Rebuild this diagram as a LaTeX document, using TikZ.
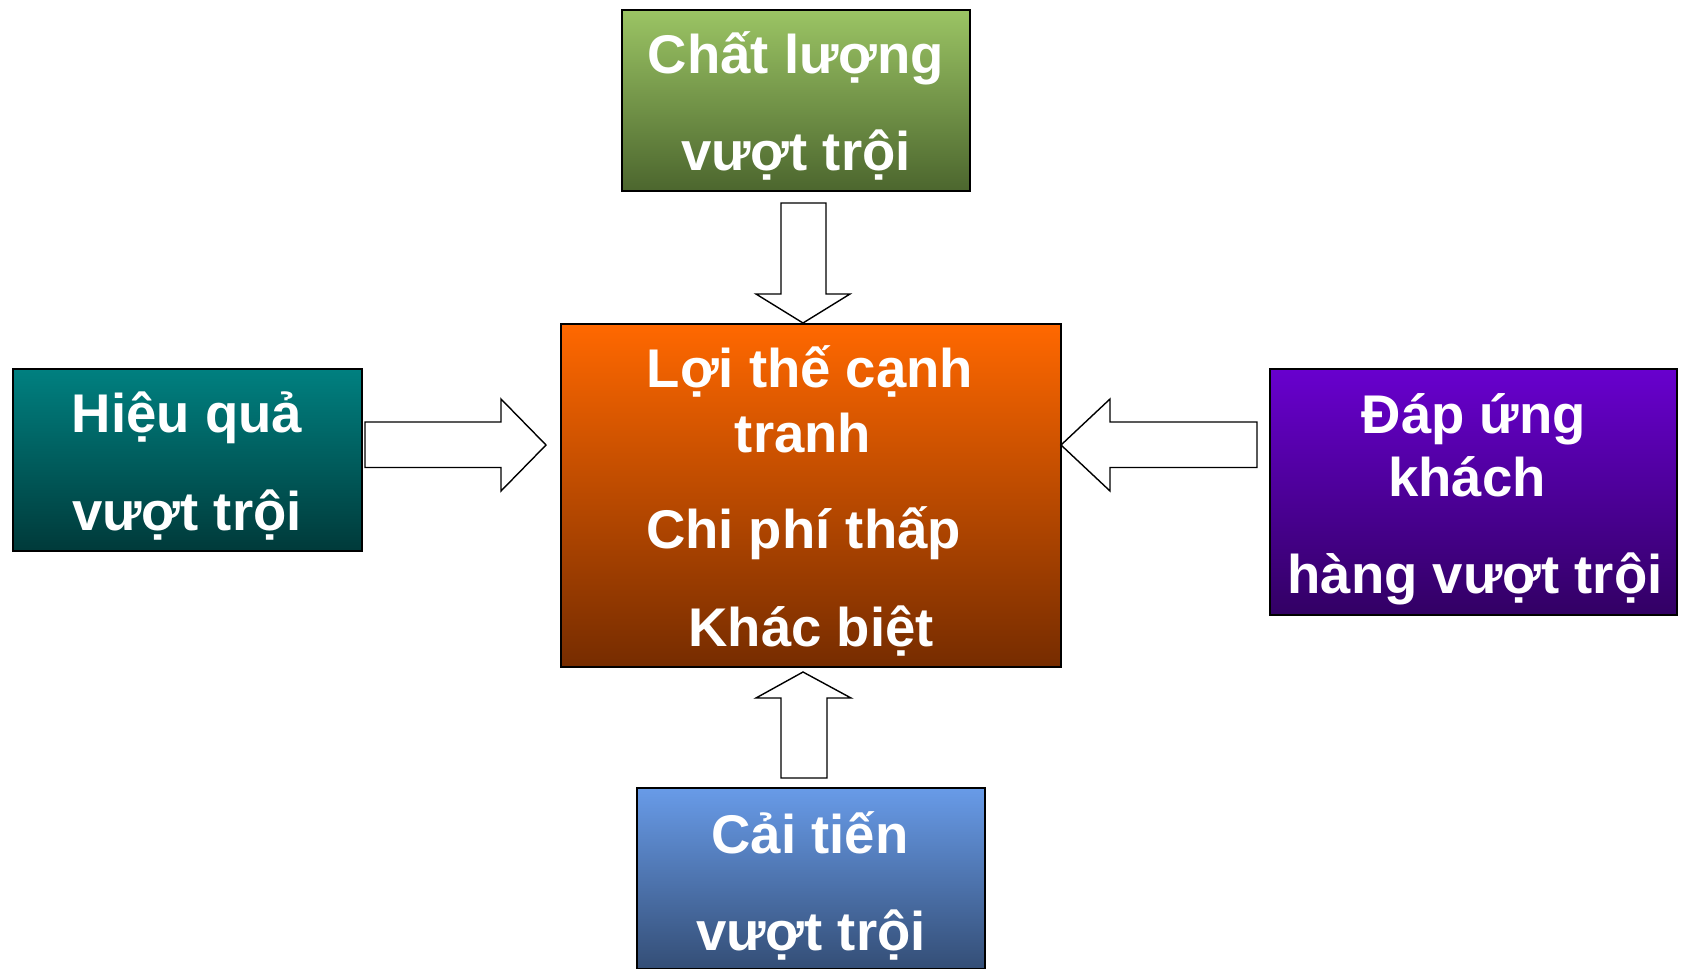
\documentclass[tikz,border=0pt]{standalone}
\usepackage{fontspec}
\setmainfont{Liberation Sans}
\definecolor{gTop}{RGB}{155,196,100}
\definecolor{gBot}{RGB}{76,102,46}
\definecolor{tTop}{RGB}{0,128,128}
\definecolor{tBot}{RGB}{0,58,58}
\definecolor{oTop}{RGB}{255,104,0}
\definecolor{oBot}{RGB}{118,44,0}
\definecolor{pTop}{RGB}{104,0,206}
\definecolor{pBot}{RGB}{50,0,100}
\definecolor{bTop}{RGB}{104,155,232}
\definecolor{bBot}{RGB}{52,78,118}
\tikzset{
  box/.style={draw=black, line width=1.4pt, rectangle, inner sep=0pt, outer sep=0pt},
  lbl/.style={text=white, font=\fontsize{54.5}{64}\selectfont\bfseries, inner sep=0pt, anchor=base},
  blockarrow/.style={draw=black, fill=white, line width=1.4pt, line join=miter}
}
\begin{document}
\begin{tikzpicture}[x=1pt,y=-1pt]
\useasboundingbox (0,0) rectangle (1682,969);
\clip (0,0) rectangle (1682,969);
% boxes
\node[box, top color=gTop, bottom color=gBot, minimum width=348pt, minimum height=181pt] (qual) at (796,100.5) {};
\node[box, top color=tTop, bottom color=tBot, minimum width=349pt, minimum height=182pt] (eff) at (187.5,460) {};
\node[box, top color=oTop, bottom color=oBot, minimum width=500pt, minimum height=343pt] (adv) at (811,495.5) {};
\node[box, top color=pTop, bottom color=pBot, minimum width=407pt, minimum height=246pt] (resp) at (1473.5,492) {};
\node[box, top color=bTop, bottom color=bBot, minimum width=348pt, minimum height=181pt] (inno) at (811,878.5) {};
% texts
\node[lbl] (qual1) at (796,73) {Chất lượng};
\node[lbl] (qual2) at (796,170) {vượt trội};
\node[lbl] (eff1) at (187,432) {Hiệu quả};
\node[lbl] (eff2) at (187,530) {vượt trội};
\node[lbl] (adv1) at (810,387) {Lợi thế cạnh};
\node[lbl] (adv2) at (803,452) {tranh};
\node[lbl] (adv3) at (803.5,548) {Chi phí thấp};
\node[lbl] (adv4) at (811,646) {Khác biệt};
\node[lbl] (resp1) at (1474,433) {Đáp ứng};
\node[lbl] (resp2) at (1467,496) {khách};
\node[lbl] (resp3) at (1475,593) {hàng vượt trội};
\node[lbl] (inno1) at (810,853) {Cải tiến};
\node[lbl] (inno2) at (811,950) {vượt trội};
% block arrows
\coordinate (tipTop) at (803,323);
\coordinate (tipBot) at (803,672);
\coordinate (tipLeft) at (546,445);
\coordinate (tipRight) at (1061,445);
\draw[blockarrow] (781,203) -- (826,203) -- (826,294) -- (850,294) -- (tipTop) -- (756,294) -- (781,294) -- cycle;
\draw[blockarrow] (781,778) -- (827,778) -- (827,698) -- (851,698) -- (tipBot) -- (756,698) -- (781,698) -- cycle;
\draw[blockarrow] (365,422) -- (501,422) -- (501,399) -- (tipLeft) -- (501,491) -- (501,467.5) -- (365,467.5) -- cycle;
\draw[blockarrow] (1257,422) -- (1110,422) -- (1110,399) -- (tipRight) -- (1110,491) -- (1110,467.5) -- (1257,467.5) -- cycle;
\end{tikzpicture}
\end{document}
